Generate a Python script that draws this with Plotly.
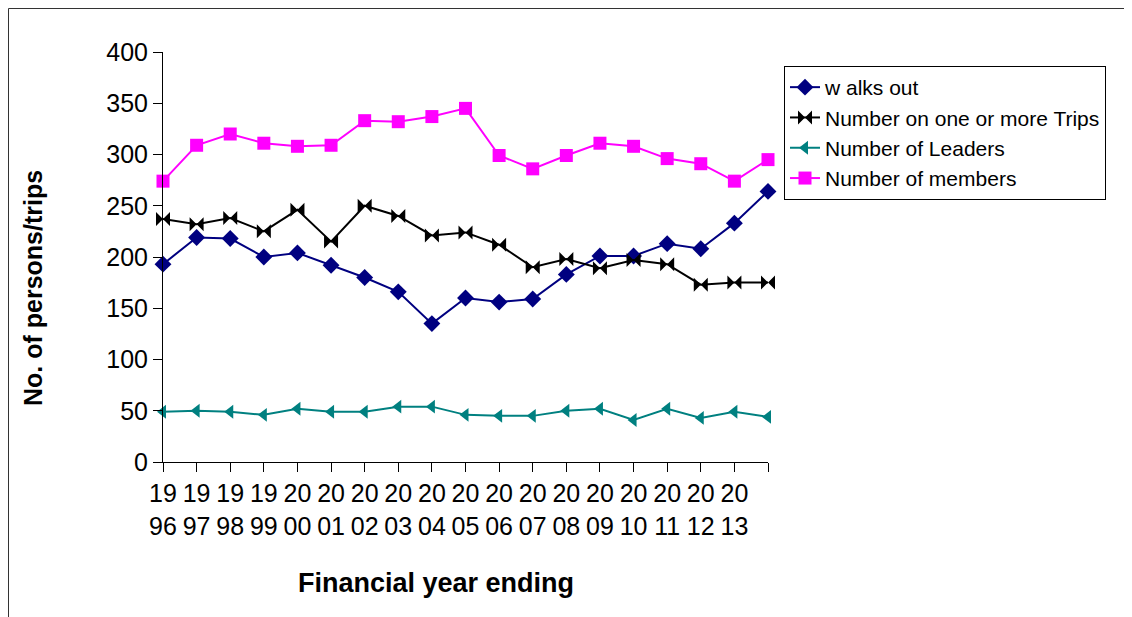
import plotly.graph_objects as go

years = [str(y) for y in range(1996, 2015)]
tick_labels = ["19<br>96", "19<br>97", "19<br>98", "19<br>99", "20<br>00", "20<br>01",
               "20<br>02", "20<br>03", "20<br>04", "20<br>05", "20<br>06", "20<br>07",
               "20<br>08", "20<br>09", "20<br>10", "20<br>11", "20<br>12", "20<br>13", ""]

walks = [193, 219, 218, 200, 204, 192, 180, 166, 135, 160, 156, 159, 183, 201, 201, 213, 208, 233, 264]
trips = [237, 232, 238, 225, 246, 215, 250, 240, 221, 224, 212, 190, 198, 189, 197, 193, 173, 175, 175]
leaders = [49, 50, 49, 46, 52, 49, 49, 54, 54, 46, 45, 45, 50, 52, 41, 52, 43, 49, 44]
members = [274, 309, 320, 311, 308, 309, 333, 332, 337, 345, 299, 286, 299, 311, 308, 296, 291, 274, 295]

series = [
    ("w alks out", walks, "#000080", "diamond", 13),
    ("Number on one or more Trips", trips, "#000000", "bowtie", 14),
    ("Number of Leaders", leaders, "#008080", "triangle-left", 12),
    ("Number of members", members, "#FF00FF", "square", 13),
]

FONT = "Liberation Sans, Arial, sans-serif"

fig = go.Figure()
for name, vals, color, sym, size in series:
    fig.add_trace(go.Scatter(
        x=years, y=vals, name=name, mode="lines+markers",
        line=dict(color=color, width=2),
        marker=dict(symbol=sym, size=size, color=color, line=dict(width=0)),
        cliponaxis=False,
    ))

OFF = 8  # page body margin
L, R, T, B = 163 - OFF, 768 - OFF, 52 - OFF, 462 - OFF
W, H = 1132 - OFF, 617 - OFF
pw, ph = R - L, B - T

def px(x):
    return (x - OFF - L) / pw

def py(y):
    return (B - (y - OFF)) / ph

fig.update_layout(
    width=W, height=H,
    margin=dict(l=L, r=W - R, t=T, b=H - B, pad=0),
    paper_bgcolor="white", plot_bgcolor="white",
    font=dict(family=FONT, color="black"),
    showlegend=True,
    legend=dict(
        x=px(784), y=py(66), xanchor="left", yanchor="top",
        bordercolor="#000000", borderwidth=1, bgcolor="white",
        font=dict(size=21, family=FONT), itemwidth=30,
        tracegroupgap=0,
    ),
    xaxis=dict(
        type="category", range=[0, len(years) - 1],
        tickmode="array", tickvals=years, ticktext=tick_labels,
        showline=True, linecolor="#000000", linewidth=1,
        ticks="outside", ticklen=9, tickcolor="#000000",
        showgrid=False, zeroline=False,
        tickfont=dict(size=25, family=FONT), tickangle=0,
    ),
    yaxis=dict(
        range=[0, 400], tickvals=[0, 50, 100, 150, 200, 250, 300, 350, 400],
        showline=True, linecolor="#000000", linewidth=1,
        ticks="outside", ticklen=9, tickcolor="#000000",
        showgrid=False, zeroline=False,
        tickfont=dict(size=25, family=FONT),
    ),
    annotations=[
        dict(text="<b>Financial year ending</b>", xref="paper", yref="paper",
             x=px(436), y=py(583), xanchor="center", yanchor="middle",
             showarrow=False, font=dict(size=27, family=FONT)),
        dict(text="<b>No. of persons/trips</b>", xref="paper", yref="paper",
             x=px(33), y=py(288), xanchor="center", yanchor="middle",
             textangle=-90, showarrow=False, font=dict(size=25, family=FONT)),
    ],
    shapes=[
        dict(type="line", xref="paper", yref="paper",
             x0=px(8.5), x1=px(8.5), y0=py(H + 20), y1=py(8.5),
             line=dict(color="#333333", width=1)),
        dict(type="line", xref="paper", yref="paper",
             x0=px(8.5), x1=px(W + 20), y0=py(8.5), y1=py(8.5),
             line=dict(color="#333333", width=1)),
    ],
)

fig.write_html("out.html")
